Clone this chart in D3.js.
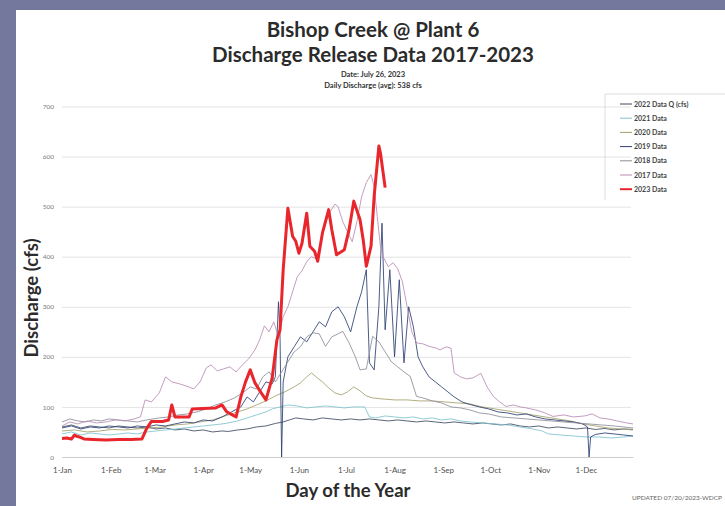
<!DOCTYPE html>
<html><head><meta charset="utf-8">
<script src="https://cdn.jsdelivr.net/npm/d3@7"></script>
<style>
body{margin:0;background:#73789c;overflow:hidden}
svg{display:block}
</style>
</head><body>
<svg id="c" width="725" height="506"></svg>
<script>
// ---- data ----
const monthDays = [0,31,59,90,120,151,181,212,243,273,304,334];
const monthLabels = ["1-Jan","1-Feb","1-Mar","1-Apr","1-May","1-Jun","1-Jul","1-Aug","1-Sep","1-Oct","1-Nov","1-Dec"];
const yTicks = [0,100,200,300,400,500,600,700];

const legendNames = ["2022 Data  Q (cfs)","2021 Data","2020 Data","2019 Data","2018 Data","2017 Data","2023 Data"];

const d2022 = [[0,60],[6,64],[12,58],[18,62],[24,60],[30,58],[36,62],[42,60],[48,58],[54,60],[60,56],[66,58],[72,54],[78,56],[84,52],[90,54],[96,50],[102,52],[106,51],[112,54],[118,56],[124,60],[130,62],[136,67],[141,70],[145,74],[149,78],[154,76],[160,74],[166,78],[172,76],[178,74],[184,76],[190,74],[196,76],[202,74],[208,72],[214,74],[220,72],[226,70],[232,72],[238,70],[244,68],[250,70],[256,68],[262,66],[268,68],[274,66],[280,64],[286,66],[292,62],[298,60],[304,62],[310,58],[316,60],[322,58],[328,56],[334,58],[340,55],[346,57],[352,54],[358,56],[364,55]];

const d2021 = [[0,46],[6,50],[12,44],[18,48],[24,46],[30,44],[36,46],[42,48],[48,46],[54,50],[60,52],[66,54],[72,56],[78,58],[84,60],[90,62],[96,64],[102,66],[106,68],[112,72],[118,78],[124,84],[130,90],[134,96],[139,100],[144,104],[150,102],[156,98],[162,100],[168,102],[174,100],[180,98],[186,100],[193,100],[196,80],[200,78],[206,82],[212,80],[218,78],[224,80],[230,76],[236,78],[242,74],[248,76],[254,72],[260,70],[268,68],[276,66],[284,64],[292,60],[300,56],[306,52],[310,46],[318,44],[326,42],[334,40],[342,40],[350,38],[358,40],[364,42]];

const d2020 = [[0,52],[8,54],[16,50],[24,52],[32,55],[40,54],[48,56],[56,58],[64,60],[72,64],[80,66],[88,70],[96,74],[104,82],[112,90],[118,96],[124,104],[130,112],[136,122],[142,130],[148,140],[152,148],[156,160],[159,168],[162,160],[166,150],[170,138],[174,128],[178,124],[182,130],[186,140],[190,132],[194,122],[198,118],[204,116],[212,114],[220,114],[228,112],[236,112],[244,110],[252,108],[260,106],[268,100],[276,96],[284,92],[292,88],[300,84],[308,80],[316,76],[324,72],[332,66],[340,62],[348,58],[356,56],[364,54]];

const d2019 = [[0,58],[6,62],[12,56],[18,60],[24,58],[30,62],[36,60],[42,58],[48,62],[54,60],[60,64],[66,62],[72,66],[78,70],[84,68],[90,74],[96,72],[102,80],[108,90],[114,100],[118,120],[122,110],[126,130],[130,150],[134,146],[136,160],[138,310],[139,240],[140,0],[141,150],[144,200],[148,220],[152,240],[156,230],[160,250],[164,270],[168,260],[172,290],[176,300],[180,280],[184,250],[188,300],[191,330],[194,374],[196,188],[199,174],[202,300],[204,467],[206,254],[209,374],[212,200],[215,354],[218,188],[221,300],[224,260],[227,200],[230,180],[234,160],[238,150],[242,140],[246,130],[250,120],[255,110],[260,105],[266,100],[272,96],[278,90],[284,88],[290,84],[296,86],[302,80],[308,76],[314,74],[320,72],[326,70],[332,66],[335,60],[336,0],[337,40],[340,45],[346,48],[352,46],[358,44],[364,42]];

const d2018 = [[0,70],[5,76],[10,72],[15,70],[20,74],[25,72],[30,76],[36,74],[42,72],[48,70],[54,74],[58,76],[62,78],[68,80],[74,84],[80,86],[86,90],[92,96],[98,104],[104,110],[110,118],[116,130],[120,140],[124,136],[128,160],[132,170],[136,150],[140,170],[144,190],[148,210],[152,220],[156,240],[160,248],[164,246],[168,221],[172,240],[176,246],[179,251],[183,228],[187,200],[190,174],[194,176],[198,241],[202,230],[206,210],[210,190],[214,180],[218,170],[222,161],[226,121],[230,118],[236,112],[242,108],[248,100],[254,98],[260,94],[266,88],[272,86],[280,80],[288,78],[296,76],[304,74],[312,72],[320,70],[328,68],[336,66],[344,64],[352,62],[358,60],[364,58]];

const d2017 = [[0,62],[5,70],[10,66],[16,72],[22,68],[28,70],[34,74],[40,72],[46,76],[50,80],[53,114],[57,110],[62,128],[66,160],[70,150],[75,146],[79,142],[84,136],[88,150],[92,178],[95,184],[99,172],[103,176],[107,180],[111,170],[115,184],[119,196],[123,214],[126,234],[129,262],[132,250],[135,270],[138,240],[141,280],[144,300],[147,330],[150,360],[153,372],[156,390],[159,400],[162,396],[165,430],[168,470],[171,490],[174,505],[176,500],[179,470],[182,450],[185,430],[188,470],[191,520],[194,548],[197,564],[199,540],[201,480],[203,420],[205,398],[208,380],[211,388],[214,376],[217,350],[220,300],[223,250],[226,228],[230,226],[234,221],[238,218],[241,214],[245,220],[248,217],[250,168],[254,160],[258,156],[262,158],[267,167],[271,140],[275,121],[279,110],[283,101],[288,104],[292,100],[296,98],[302,94],[308,88],[313,81],[320,84],[326,80],[333,82],[338,86],[343,78],[348,76],[354,72],[360,68],[364,66]];

const d2023 = [[0,37],[3,38],[6,36],[8,44],[9,42],[11,40],[14,36],[20,35],[28,34],[36,35],[44,35],[51,36],[54,57],[57,71],[64,71],[68,74],[70,104],[72,80],[81,80],[83,96],[90,97],[98,98],[102,104],[105,90],[111,80],[114,120],[117,150],[120,174],[123,148],[127,128],[130,114],[134,158],[137,234],[139,254],[141,374],[144,497],[147,441],[149,431],[151,407],[153,427],[156,487],[158,421],[161,411],[163,391],[166,447],[170,494],[172,454],[175,404],[180,414],[183,454],[186,511],[190,474],[192,434],[194,381],[197,421],[199,521],[202,621],[203,607],[206,538]];

// ---- drawing ----
const series = [
  {name:legendNames[0], data:d2022, color:"#3f4a60", w:1},
  {name:legendNames[1], data:d2021, color:"#7ec3cf", w:1},
  {name:legendNames[2], data:d2020, color:"#a3a06a", w:1},
  {name:legendNames[3], data:d2019, color:"#2d3f72", w:1},
  {name:legendNames[4], data:d2018, color:"#8d8d9b", w:1},
  {name:legendNames[5], data:d2017, color:"#b98cb4", w:1},
  {name:legendNames[6], data:d2023, color:"#e8262c", w:3}
];

const svg = d3.select("#c");
svg.append("rect").attr("x",16).attr("y",10).attr("width",709).attr("height",496).attr("fill","#ffffff");

const x = d3.scaleLinear().domain([0,364]).range([62,633]);
const y = d3.scaleLinear().domain([0,700]).range([457,106.5]);

const FONT = "Lato, 'Open Sans', sans-serif";

// gridlines + y labels
const gy = svg.append("g").attr("transform","translate(62,0)")
  .call(d3.axisLeft(y).tickValues(yTicks).tickSize(-569).tickPadding(8).tickFormat(d3.format("d")));
gy.select(".domain").remove();
gy.selectAll(".tick line").attr("stroke","#dcdcdc").attr("stroke-width",0.8);
gy.selectAll(".tick text").attr("fill","#7a7a7a").style("font-family",FONT).style("font-size","6.5px");

// x axis
const gx = svg.append("g").attr("transform","translate(0,457)")
  .call(d3.axisBottom(x).tickValues(monthDays).tickSize(0).tickPadding(10).tickFormat((d,i)=>monthLabels[i]));
gx.select(".domain").attr("stroke","#c8c8c8").attr("stroke-width",0.8);
gx.selectAll(".tick text").attr("fill","#505050").style("font-family",FONT).style("font-size","8px");

// lines
const line = d3.line().x(d=>x(d[0])).y(d=>y(d[1]));
svg.append("g").selectAll("path").data(series).join("path")
  .attr("d",d=>line(d.data))
  .attr("fill","none")
  .attr("stroke",d=>d.color)
  .attr("stroke-width",d=>d.w)
  .attr("stroke-linejoin","round")
  .attr("opacity",d=>d.w>1?1:0.85);

// titles
svg.append("text").attr("x",373).attr("y",37).attr("text-anchor","middle")
  .style("font-family",FONT).style("font-weight","bold").style("font-size","20.5px").attr("fill","#2b2b2b")
  .text("Bishop Creek @ Plant 6");
svg.append("text").attr("x",373).attr("y",62).attr("text-anchor","middle")
  .style("font-family",FONT).style("font-weight","bold").style("font-size","20.5px").attr("fill","#2b2b2b")
  .text("Discharge Release Data 2017-2023");
svg.append("text").attr("x",373).attr("y",77).attr("text-anchor","middle")
  .style("font-family",FONT).style("font-weight","bold").style("font-size","7.5px").attr("fill","#333")
  .text("Date: July 26, 2023");
svg.append("text").attr("x",373).attr("y",88).attr("text-anchor","middle")
  .style("font-family",FONT).style("font-weight","bold").style("font-size","7.5px").attr("fill","#333")
  .text("Daily Discharge (avg):  538 cfs");

// axis titles
svg.append("text").attr("transform","translate(38,298) rotate(-90)").attr("text-anchor","middle")
  .style("font-family",FONT).style("font-weight","bold").style("font-size","18.5px").attr("fill","#2b2b2b")
  .text("Discharge (cfs)");
svg.append("text").attr("x",348).attr("y",497).attr("text-anchor","middle")
  .style("font-family",FONT).style("font-weight","bold").style("font-size","18.5px").attr("fill","#2b2b2b")
  .text("Day of the Year");
svg.append("text").attr("x",722).attr("y",500).attr("text-anchor","end")
  .style("font-family",FONT).style("font-size","6.5px").attr("fill","#666")
  .text("UPDATED 07/20/2023-WDCP");

// legend
const lg = svg.append("g");
lg.append("path").attr("d","M605,94 H725 M605,94 V200").attr("stroke","#d4d4d4").attr("fill","none").attr("stroke-width",0.8);
const items = lg.selectAll("g").data(series).join("g")
  .attr("transform",(d,i)=>`translate(620,${104 + i*14.2})`);
items.append("line").attr("x1",0).attr("x2",12).attr("y1",0).attr("y2",0)
  .attr("stroke",d=>d.color).attr("stroke-width",d=>d.w>1?2:1);
items.append("text").attr("x",14).attr("y",2.5)
  .style("font-family",FONT).style("font-weight","bold").style("font-size","7px").attr("fill","#444")
  .text(d=>d.name);
</script>
</body></html>
